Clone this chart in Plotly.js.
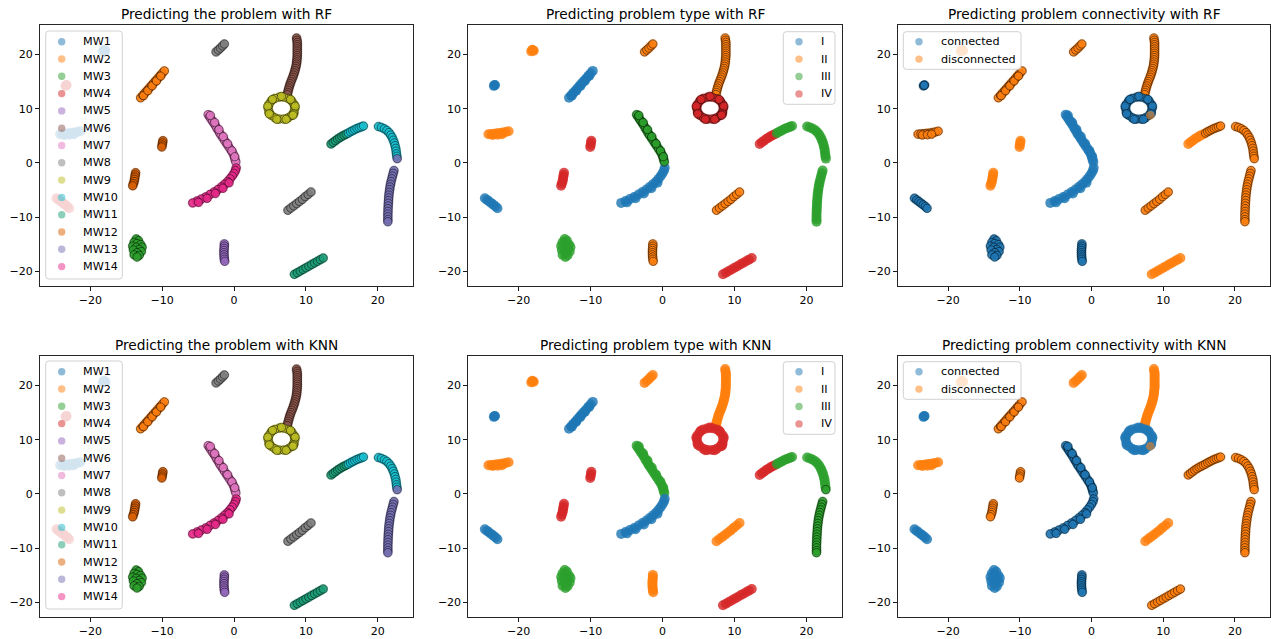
<!DOCTYPE html>
<html><head><meta charset="utf-8">
<script src="https://cdn.plot.ly/plotly-3.0.1.min.js"></script>
<style>html,body{margin:0;padding:0;background:#fff}</style>
</head><body><div id="chart" style="width:1271px;height:639px"></div>
<script>
// ---- embedded point clusters ----
const lone1X = [-18.25,-18.05,-17.9,-18.1];   const lone1Y = [20.55,20.75,20.65,20.85];
const lone2X = [-23.45,-23.3,-23.35];         const lone2Y = [14.2,14.35,14.3];
const blobHX = [-24.2,-23.8,-23.4,-23.0,-22.6,-22.2,-21.8,-21.4,-23.6,-22.9,-22.3];
const blobHY = [5.3,5.35,5.4,5.45,5.5,5.6,5.7,5.85,5.15,5.2,5.3];
const diag1X = [-13.0,-12.7,-12.4,-12.1,-11.8,-11.5,-11.2,-10.9,-10.6,-10.3,-10.0,-9.7,-12.6,-12.0,-11.4,-10.8,-10.2];
const diag1Y = [12.0,12.45,12.9,13.35,13.8,14.25,14.7,15.15,15.6,16.05,16.5,16.95,12.4,13.3,14.2,15.1,16.0];
const shortX = [-2.5,-2.2,-1.9,-1.6,-1.35];   const shortY = [20.45,20.8,21.15,21.55,21.9];
const tailX = [8.7,8.75,8.8,8.8,8.8,8.8,8.8,8.8,8.8,8.78,8.75,8.72,8.68,8.62,8.55,8.47,8.38,8.28,8.17,8.05,7.93,7.82,7.72,7.63,7.55,7.48,7.42];
const tailY = [23.0,22.6,22.2,21.8,21.4,21.0,20.6,20.2,19.8,19.4,19.0,18.6,18.2,17.8,17.4,17.0,16.6,16.2,15.8,15.4,15.0,14.6,14.2,13.8,13.4,13.0,12.6];
const ringX = [8.45,8.34,8.02,7.53,6.92,6.28,5.68,5.18,4.86,4.75,4.86,5.18,5.68,6.28,6.92,7.53,8.02,8.34,8.5,7.85,6.6,5.35,4.7,4.9,5.95,7.25,8.3];
const ringY = [10.1,10.8,11.42,11.88,12.12,12.12,11.88,11.42,10.8,10.1,9.4,8.78,8.32,8.08,8.08,8.32,8.78,9.4,10.45,11.7,12.25,11.7,10.45,9.05,8.05,8.05,9.05];
const ringDotX = [8.2];                        const ringDotY = [8.8];
const arcUpX = [-3.6,-3.4,-3.2,-3.0,-2.8,-2.6,-2.4,-2.2,-2.0,-1.8,-1.55,-1.3,-1.05,-0.8,-0.55,-0.3,-0.1,0.05,0.15,0.25,-3.3,-2.7,-2.1,-1.5,-0.9,-0.3,0.1];
const arcUpY = [8.9,8.5,8.1,7.7,7.3,6.9,6.4,6.0,5.5,5.1,4.6,4.1,3.6,3.1,2.6,2.1,1.6,1.1,0.6,0.2,8.75,7.45,6.15,4.85,3.55,2.25,1.15];
const arcLowX = [0.3,0.2,0.0,-0.25,-0.55,-0.9,-1.3,-1.75,-2.25,-2.8,-3.35,-3.95,-4.55,-5.15,-5.75,-0.7,-1.55,-2.6,-3.75,-4.95];
const arcLowY = [-0.9,-1.4,-1.9,-2.4,-2.9,-3.4,-3.9,-4.4,-4.9,-5.35,-5.8,-6.25,-6.65,-7.0,-7.35,-3.65,-4.65,-5.6,-6.5,-7.25];
const stubAX = [-9.9,-9.95,-10.0,-10.05];     const stubAY = [4.1,3.7,3.3,2.95];
const stubBX = [-13.7,-13.75,-13.8,-13.85,-13.9,-14.0,-14.1];
const stubBY = [-1.8,-2.2,-2.6,-3.0,-3.4,-3.8,-4.2];
const diag2X = [-24.7,-24.4,-24.1,-23.8,-23.5,-23.2,-22.95];
const diag2Y = [-6.5,-6.8,-7.1,-7.4,-7.7,-8.0,-8.35];
const blobX = [-13.6,-13.3,-13.9,-13.5,-13.0,-14.1,-13.6,-12.8,-13.2,-14.0,-12.9,-13.5,-13.9,-13.2,-13.5];
const blobY = [-14.0,-14.3,-14.6,-14.8,-15.0,-15.3,-15.5,-15.5,-15.9,-16.0,-16.3,-16.5,-16.9,-17.0,-17.3];
const vertX = [-1.35,-1.35,-1.38,-1.4,-1.4,-1.4,-1.38,-1.35,-1.3];
const vertY = [-14.9,-15.3,-15.7,-16.1,-16.5,-16.9,-17.3,-17.7,-18.1];
const diag3X = [7.5,7.9,8.3,8.7,9.1,9.5,9.9,10.3,10.7];
const diag3Y = [-8.7,-8.3,-7.9,-7.5,-7.1,-6.7,-6.2,-5.8,-5.35];
const bottomX = [8.4,8.8,9.2,9.6,10.0,10.4,10.8,11.2,11.6,12.0,12.4];
const bottomY = [-20.5,-20.2,-19.9,-19.6,-19.3,-19.0,-18.7,-18.4,-18.1,-17.8,-17.5];
const arcAX = [13.5,13.8,14.1,14.4,14.7,15.0,15.3,15.6];
const arcAY = [3.5,3.8,4.1,4.4,4.65,4.9,5.1,5.3];
const arcBX = [15.9,16.2,16.5,16.8,17.1,17.4,17.7,18.0];
const arcBY = [5.5,5.75,5.95,6.15,6.35,6.5,6.65,6.8];
const hookX = [20.1,20.5,20.9,21.25,21.55,21.8,22.0,22.15,22.3,22.4,22.5,22.55,22.6,22.65];
const hookY = [6.7,6.55,6.3,6.0,5.6,5.15,4.7,4.2,3.7,3.2,2.7,2.2,1.7,1.25];
const hookEndX = [22.7];                       const hookEndY = [0.8];
const curveX = [22.25,22.15,22.05,21.95,21.85,21.78,21.7,21.65,21.6,21.55,21.52,21.5,21.47,21.45,21.43,21.42,21.4,21.4,21.4,21.4];
const curveY = [-1.4,-1.9,-2.4,-2.9,-3.4,-3.9,-4.4,-4.9,-5.4,-5.9,-6.4,-6.9,-7.4,-7.9,-8.4,-8.9,-9.4,-9.9,-10.4,-10.8];

const clusters = [
  [lone1X,lone1Y],[lone2X,lone2Y],[blobHX,blobHY],[diag1X,diag1Y],[shortX,shortY],
  [tailX,tailY],[ringX,ringY],[ringDotX,ringDotY],[arcUpX,arcUpY],[arcLowX,arcLowY],
  [stubAX,stubAY],[stubBX,stubBY],[diag2X,diag2Y],[blobX,blobY],[vertX,vertY],
  [diag3X,diag3Y],[bottomX,bottomY],[arcAX,arcAY],[arcBX,arcBY],[hookX,hookY],
  [hookEndX,hookEndY],[curveX,curveY]];

// ---- labels per cluster ----
const labelsMW   = ['MW1','MW4','MW1','MW2','MW8','MW6','MW9','MW9','MW7','MW14','MW12','MW12','MW4','MW3','MW5','MW8','MW11','MW11','MW10','MW10','MW13','MW13'];
const labelsType = ['II','I','II','I','II','II','IV','IV','III','I','IV','IV','I','III','II','II','IV','IV','III','III','III','III'];
const labelsConn = ['disconnected','connected','disconnected','disconnected','disconnected','disconnected','connected','disconnected','connected','connected','disconnected','disconnected','connected','connected','connected','disconnected','disconnected','disconnected','disconnected','disconnected','disconnected','disconnected'];

// marker style per cluster: 0 plain, 1 black-edged, 2 drawn on top
const styleMWRF    = [0,0,0,1,1,1,1,1,1,1,1,1,0,1,1,1,1,1,1,1,1,1];
const styleMWKNN   = [0,0,0,1,1,1,1,1,1,1,1,1,0,1,1,1,1,1,1,1,1,1];
const styleTypeRF  = [0,0,0,0,1,1,1,1,1,0,0,0,0,0,1,1,0,0,0,0,0,0];
const styleTypeKNN = [0,0,0,0,0,0,0,0,0,0,0,0,0,0,0,0,0,0,0,0,1,1];
const styleConnRF  = [0,1,1,1,1,1,1,2,0,0,0,0,1,1,1,1,0,0,1,1,1,1];
const styleConnKNN = [0,0,0,1,0,0,0,2,1,1,1,1,0,0,1,0,1,1,1,1,1,1];

// ---- classes / legend ----
const classesMW = ['MW1','MW2','MW3','MW4','MW5','MW6','MW7','MW8','MW9','MW10','MW11','MW12','MW13','MW14'];
const colorsMW  = ['#1f77b4','#ff7f0e','#2ca02c','#d62728','#9467bd','#8c564b','#e377c2','#7f7f7f','#bcbd22','#17becf','#1b9e77','#d95f02','#7570b3','#e7298a'];
const classesType = ['I','II','III','IV'];
const colorsType  = ['#1f77b4','#ff7f0e','#2ca02c','#d62728'];
const classesConn = ['connected','disconnected'];
const colorsConn  = ['#1f77b4','#ff7f0e'];

const titles = ['Predicting the problem with RF','Predicting problem type with RF','Predicting problem connectivity with RF',
                'Predicting the problem with KNN','Predicting problem type with KNN','Predicting problem connectivity with KNN'];

const panels = [
  {labels:labelsMW,   style:styleMWRF,    classes:classesMW,   colors:colorsMW},
  {labels:labelsType, style:styleTypeRF,  classes:classesType, colors:colorsType},
  {labels:labelsConn, style:styleConnRF,  classes:classesConn, colors:colorsConn},
  {labels:labelsMW,   style:styleMWKNN,   classes:classesMW,   colors:colorsMW},
  {labels:labelsType, style:styleTypeKNN, classes:classesType, colors:colorsType},
  {labels:labelsConn, style:styleConnKNN, classes:classesConn, colors:colorsConn}];

// ---- layout geometry (pixels) ----
const W = 1271, H = 639;
const colPx = [[40,413],[468.3,841.7],[898,1270]];
const rowPx = [[25,286],[356,617]];
const legendGeo = [ // box x0,x1,y0,y1 ; marker x ; text x ; first y ; step
  {box:[45.7,122.3,31,279], mx:61.7, tx:81.5, y0:41.7, dy:17.3},
  {box:[783.3,835,31.7,104.3], mx:799, tx:819.5, y0:41.7, dy:17.4},
  {box:[903.3,1021,31.7,69.3], mx:919, tx:939.5, y0:41.7, dy:17.4}];
const FONT = 'DejaVu Sans, Verdana, sans-serif';

function rgba(hex,a){const n=parseInt(hex.slice(1),16);return `rgba(${n>>16},${(n>>8)&255},${n&255},${a})`;}
const PX = p => p/W, PY = p => 1-p/H;

const data = [], shapes = [], annotations = [];
const layout = {width:W,height:H,margin:{l:0,r:0,t:0,b:0},paper_bgcolor:'#fff',plot_bgcolor:'#fff',
  showlegend:false,font:{family:FONT,color:'#000'}};

panels.forEach((p,i)=>{
  const n = i+1, xa = 'x'+(i?n:''), ya = 'y'+(i?n:'');
  const col = i%3, row = Math.floor(i/3);
  const axCommon = {showgrid:false,zeroline:false,showline:true,mirror:true,linecolor:'#262626',linewidth:1,
    ticks:'outside',ticklen:4,tickwidth:0.9,tickcolor:'#000',tickvals:[-20,-10,0,10,20],
    tickfont:{family:FONT,size:11,color:'#000'},fixedrange:true};
  layout['xaxis'+(i?n:'')] = Object.assign({},axCommon,{domain:[PX(colPx[col][0]),PX(colPx[col][1])],range:[-27.0,24.9],anchor:ya});
  layout['yaxis'+(i?n:'')] = Object.assign({},axCommon,{domain:[PY(rowPx[row][1]),PY(rowPx[row][0])],range:[-22.65,25.4],anchor:xa});

  const base={x:[],y:[],c:[]}, edged={x:[],y:[],c:[]}, top={x:[],y:[],c:[]};
  clusters.forEach((cl,k)=>{
    const hex = p.colors[p.classes.indexOf(p.labels[k])];
    const s = p.style[k];
    const tgt = s===2 ? top : base;
    cl[0].forEach((v,j)=>{tgt.x.push(v);tgt.y.push(cl[1][j]);tgt.c.push(rgba(hex,s===2?0.55:(s===1?0.45:0.82)));});
    if(s===1) cl[0].forEach((v,j)=>{edged.x.push(v);edged.y.push(cl[1][j]);edged.c.push(rgba(hex,0.85));});
  });
  data.push({type:'scatter',mode:'markers',x:base.x,y:base.y,xaxis:xa,yaxis:ya,hoverinfo:'skip',
    marker:{size:10,color:base.c,line:{width:0}}});
  data.push({type:'scatter',mode:'markers',x:edged.x,y:edged.y,xaxis:xa,yaxis:ya,hoverinfo:'skip',
    marker:{size:8.3,color:edged.c,line:{color:'rgba(0,0,0,0.7)',width:0.7}}});
  data.push({type:'scatter',mode:'markers',x:top.x,y:top.y,xaxis:xa,yaxis:ya,hoverinfo:'skip',
    marker:{size:8.5,color:top.c,line:{width:0}}});

  // title
  annotations.push({xref:'paper',yref:'paper',x:PX((colPx[col][0]+colPx[col][1])/2),y:PY(rowPx[row][0]-11),
    xanchor:'center',yanchor:'middle',showarrow:false,text:titles[i],font:{family:FONT,size:13.7,color:'#000'}});

  // legend (box, markers, labels)
  const g = legendGeo[col], off = row*330;
  const [bx0,bx1,by0r,by1r] = g.box, by0 = by0r+off, by1 = by1r+off, r = 3;
  const path = `M ${PX(bx0+r)},${PY(by0)} L ${PX(bx1-r)},${PY(by0)} Q ${PX(bx1)},${PY(by0)} ${PX(bx1)},${PY(by0+r)} `+
    `L ${PX(bx1)},${PY(by1-r)} Q ${PX(bx1)},${PY(by1)} ${PX(bx1-r)},${PY(by1)} L ${PX(bx0+r)},${PY(by1)} `+
    `Q ${PX(bx0)},${PY(by1)} ${PX(bx0)},${PY(by1-r)} L ${PX(bx0)},${PY(by0+r)} Q ${PX(bx0)},${PY(by0)} ${PX(bx0+r)},${PY(by0)} Z`;
  shapes.push({type:'path',xref:'paper',yref:'paper',path,fillcolor:'rgba(255,255,255,0.8)',
    line:{color:'rgba(204,204,204,0.9)',width:1},layer:'above'});
  p.classes.forEach((cName,k)=>{
    const my = g.y0 + off + k*g.dy;
    shapes.push({type:'circle',xref:'paper',yref:'paper',xsizemode:'pixel',ysizemode:'pixel',
      xanchor:PX(g.mx),yanchor:PY(my),x0:-3.7,x1:3.7,y0:-3.7,y1:3.7,
      fillcolor:rgba(p.colors[k],0.5),line:{width:0},layer:'above'});
    annotations.push({xref:'paper',yref:'paper',x:PX(g.tx),y:PY(my),xanchor:'left',yanchor:'middle',
      showarrow:false,text:cName,borderpad:0,font:{family:FONT,size:11.2,color:'#000'}});
  });
});
layout.shapes = shapes;
layout.annotations = annotations;
Plotly.newPlot('chart',data,layout,{staticPlot:true,displayModeBar:false});
</script></body></html>
